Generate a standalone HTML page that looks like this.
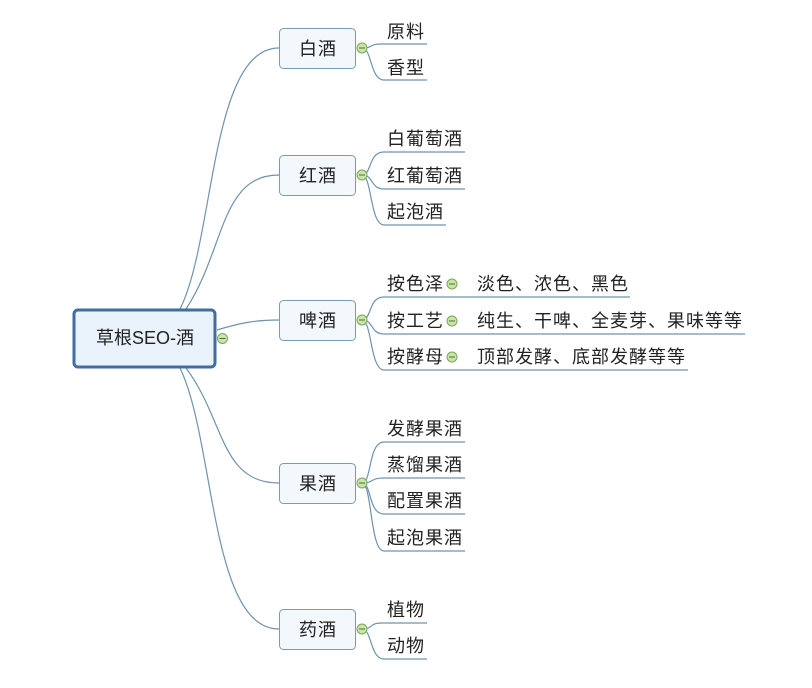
<!DOCTYPE html>
<html><head><meta charset="utf-8"><style>
body{margin:0;background:#fff}
svg text{font-family:"Liberation Sans","Noto Sans CJK SC",sans-serif;font-size:18px;letter-spacing:1px;fill:#222}
</style></head><body>
<svg width="812" height="683" viewBox="0 0 812 683" xmlns="http://www.w3.org/2000/svg">
<g fill="none" stroke="#6e93ad" stroke-width="1.2">
<path d="M180,309 C215,240 210,48 279,48"/>
<path d="M186,309 C225,250 220,175 279,175"/>
<path d="M217,330 C240,323 255,320 279,320"/>
<path d="M186,368 C225,420 220,483 279,483"/>
<path d="M180,368 C215,440 210,629 279,629"/>
<path d="M362,48 C374,48 368,44 382,44 L427,44"/><path d="M362,48 C372,48 370,80 384,80 L427,80"/>
<path d="M362,175 C372,175 368,152 384,152 L465,152"/><path d="M362,175 C374,175 370,189 384,189 L465,189"/><path d="M362,175 C372,175 370,225 384,225 L446,225"/>
<path d="M362,320 C372,320 368,297 384,297 L630,297"/><path d="M362,320 C374,320 370,334 384,334 L745,334"/><path d="M362,320 C372,320 370,370 384,370 L688,370"/>
<path d="M362,483 C372,483 368,442 384,442 L465,442"/><path d="M362,483 C374,483 370,478 384,478 L465,478"/><path d="M362,483 C372,483 368,514 384,514 L465,514"/><path d="M362,483 C372,483 370,551 384,551 L465,551"/>
<path d="M362,629 C374,629 368,623 382,623 L427,623"/><path d="M362,629 C372,629 370,659 384,659 L427,659"/>
</g>
<rect x="74" y="310" width="141" height="57" rx="4" fill="#eaf2fb" stroke="#3f6f9c" stroke-width="3"/>
<text x="145" y="344" text-anchor="middle" style="letter-spacing:0">草根SEO-酒</text>
<g fill="#f3f8fd" stroke="#7c9ab2" stroke-width="1">
<rect x="279.5" y="28.5" width="76" height="40" rx="4"/>
<rect x="279.5" y="155.5" width="76" height="40" rx="4"/>
<rect x="279.5" y="300.5" width="76" height="40" rx="4"/>
<rect x="279.5" y="463.5" width="76" height="40" rx="4"/>
<rect x="279.5" y="609.5" width="76" height="40" rx="4"/>
</g>
<g text-anchor="middle">
<text x="318" y="55">白酒</text><text x="318" y="182">红酒</text><text x="318" y="327">啤酒</text><text x="318" y="490">果酒</text><text x="318" y="636">药酒</text>
</g>
<g fill="#c9e6a8" stroke="#7aa65a" stroke-width="1">
<circle cx="222.5" cy="338.5" r="5"/><circle cx="362" cy="48" r="5"/><circle cx="362" cy="175" r="5"/><circle cx="362" cy="320" r="5"/><circle cx="362" cy="483" r="5"/><circle cx="362" cy="629" r="5"/>
<circle cx="452" cy="284" r="5"/><circle cx="452" cy="321" r="5"/><circle cx="452" cy="357" r="5"/>
</g>
<g stroke="#4a6e3a" stroke-width="1">
<path d="M219.5,338.5h6M359,48h6M359,175h6M359,320h6M359,483h6M359,629h6M449,284h6M449,321h6M449,357h6"/>
</g>
<text x="387" y="38">原料</text><text x="387" y="74">香型</text>
<text x="387" y="145">白葡萄酒</text><text x="387" y="182">红葡萄酒</text><text x="387" y="218">起泡酒</text>
<text x="387" y="290">按色泽</text><text x="387" y="327">按工艺</text><text x="387" y="363">按酵母</text>
<text x="477" y="290">淡色、浓色、黑色</text><text x="477" y="327">纯生、干啤、全麦芽、果味等等</text><text x="477" y="363">顶部发酵、底部发酵等等</text>
<text x="387" y="435">发酵果酒</text><text x="387" y="471">蒸馏果酒</text><text x="387" y="507">配置果酒</text><text x="387" y="544">起泡果酒</text>
<text x="387" y="616">植物</text><text x="387" y="652">动物</text>
</svg>
</body></html>
